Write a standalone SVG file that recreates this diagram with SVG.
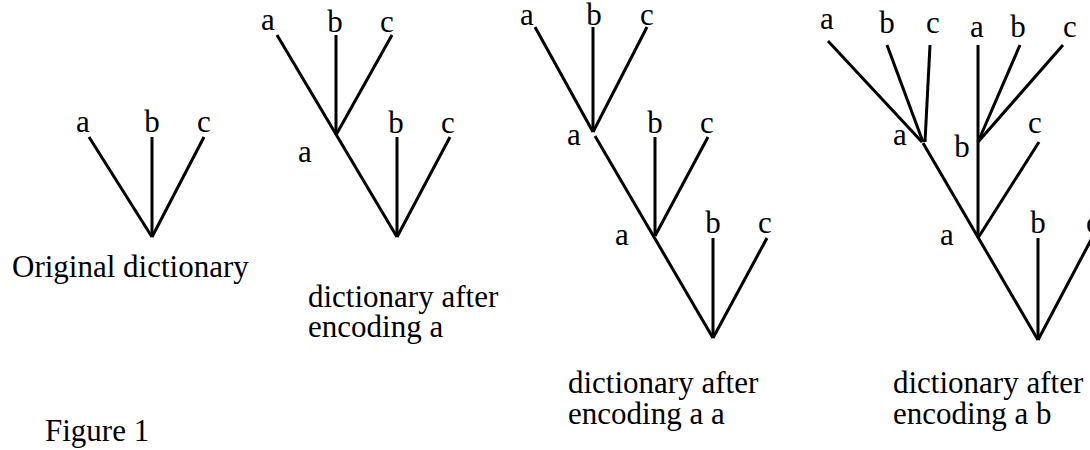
<svg xmlns="http://www.w3.org/2000/svg" width="1090" height="450" viewBox="0 0 1090 450" font-family="'Liberation Serif', 'Times New Roman', Times, serif">
<style>
  text { font-family: 'Liberation Serif', 'Times New Roman', Times, serif; font-size: 31px; fill: #000; }
  .lbl { text-anchor: middle; }
  .edge { stroke: #000; stroke-width: 3; fill: none; stroke-linecap: butt; }
</style>
<rect width="1090" height="450" fill="#fff"/>
<g id="connectors">
  <line class="edge" x1="89" y1="137" x2="152" y2="237"/>
  <line class="edge" x1="152" y1="137" x2="152" y2="237"/>
  <line class="edge" x1="204" y1="137" x2="152" y2="237"/>
  <line class="edge" x1="277" y1="35" x2="397" y2="237"/>
  <line class="edge" x1="336" y1="35" x2="336" y2="135"/>
  <line class="edge" x1="392" y1="35" x2="336" y2="135"/>
  <line class="edge" x1="397" y1="137" x2="397" y2="237"/>
  <line class="edge" x1="450" y1="137" x2="397" y2="237"/>
  <line class="edge" x1="535" y1="27" x2="593" y2="132"/>
  <line class="edge" x1="593" y1="27" x2="593" y2="132"/>
  <line class="edge" x1="647" y1="27" x2="593" y2="132"/>
  <line class="edge" x1="595" y1="136" x2="713" y2="338"/>
  <line class="edge" x1="655" y1="137" x2="655" y2="236"/>
  <line class="edge" x1="708" y1="137" x2="655" y2="236"/>
  <line class="edge" x1="713" y1="238" x2="713" y2="338"/>
  <line class="edge" x1="767" y1="238" x2="713" y2="338"/>
  <line class="edge" x1="828" y1="41" x2="922" y2="142"/>
  <line class="edge" x1="887" y1="45" x2="923" y2="142"/>
  <line class="edge" x1="930" y1="45" x2="925" y2="142"/>
  <line class="edge" x1="923" y1="143" x2="1038" y2="340"/>
  <line class="edge" x1="978" y1="45" x2="978" y2="238"/>
  <line class="edge" x1="1020" y1="45" x2="978" y2="142"/>
  <line class="edge" x1="1063" y1="45" x2="978" y2="142"/>
  <line class="edge" x1="1039" y1="142" x2="978" y2="238"/>
  <line class="edge" x1="1038" y1="238" x2="1038" y2="340"/>
  <line class="edge" x1="1092" y1="238" x2="1038" y2="340"/>
</g>
<g id="tree1">
  <text class="lbl" x="83" y="132">a</text>
  <text class="lbl" x="152" y="132">b</text>
  <text class="lbl" x="204" y="132">c</text>
  <text x="12" y="277">Original dictionary</text>
</g>
<g id="tree2">
  <text class="lbl" x="268" y="30">a</text>
  <text class="lbl" x="335" y="32">b</text>
  <text class="lbl" x="387" y="32">c</text>
  <text class="lbl" x="305" y="162">a</text>
  <text class="lbl" x="396" y="133">b</text>
  <text class="lbl" x="448" y="133">c</text>
  <text x="308" y="307">dictionary after</text>
  <text x="308" y="337">encoding a</text>
</g>
<g id="tree3">
  <text class="lbl" x="527" y="25">a</text>
  <text class="lbl" x="594" y="25">b</text>
  <text class="lbl" x="647" y="25">c</text>
  <text class="lbl" x="574" y="145">a</text>
  <text class="lbl" x="655" y="133">b</text>
  <text class="lbl" x="707" y="133">c</text>
  <text class="lbl" x="622" y="245">a</text>
  <text class="lbl" x="713" y="233">b</text>
  <text class="lbl" x="765" y="233">c</text>
  <text x="568" y="393">dictionary after</text>
  <text x="568" y="424">encoding a a</text>
</g>
<g id="tree4">
  <text class="lbl" x="827" y="29">a</text>
  <text class="lbl" x="887" y="33">b</text>
  <text class="lbl" x="933" y="33">c</text>
  <text class="lbl" x="977" y="37">a</text>
  <text class="lbl" x="1018" y="37">b</text>
  <text class="lbl" x="1070" y="37">c</text>
  <text class="lbl" x="900" y="145">a</text>
  <text class="lbl" x="962" y="157">b</text>
  <text class="lbl" x="1035" y="133">c</text>
  <text class="lbl" x="947" y="245">a</text>
  <text class="lbl" x="1038" y="233">b</text>
  <text class="lbl" x="1093" y="233">c</text>
  <text x="893" y="393">dictionary after</text>
  <text x="893" y="424">encoding a b</text>
</g>
<g id="caption">
  <text x="45" y="441">Figure 1</text>
</g>
</svg>
